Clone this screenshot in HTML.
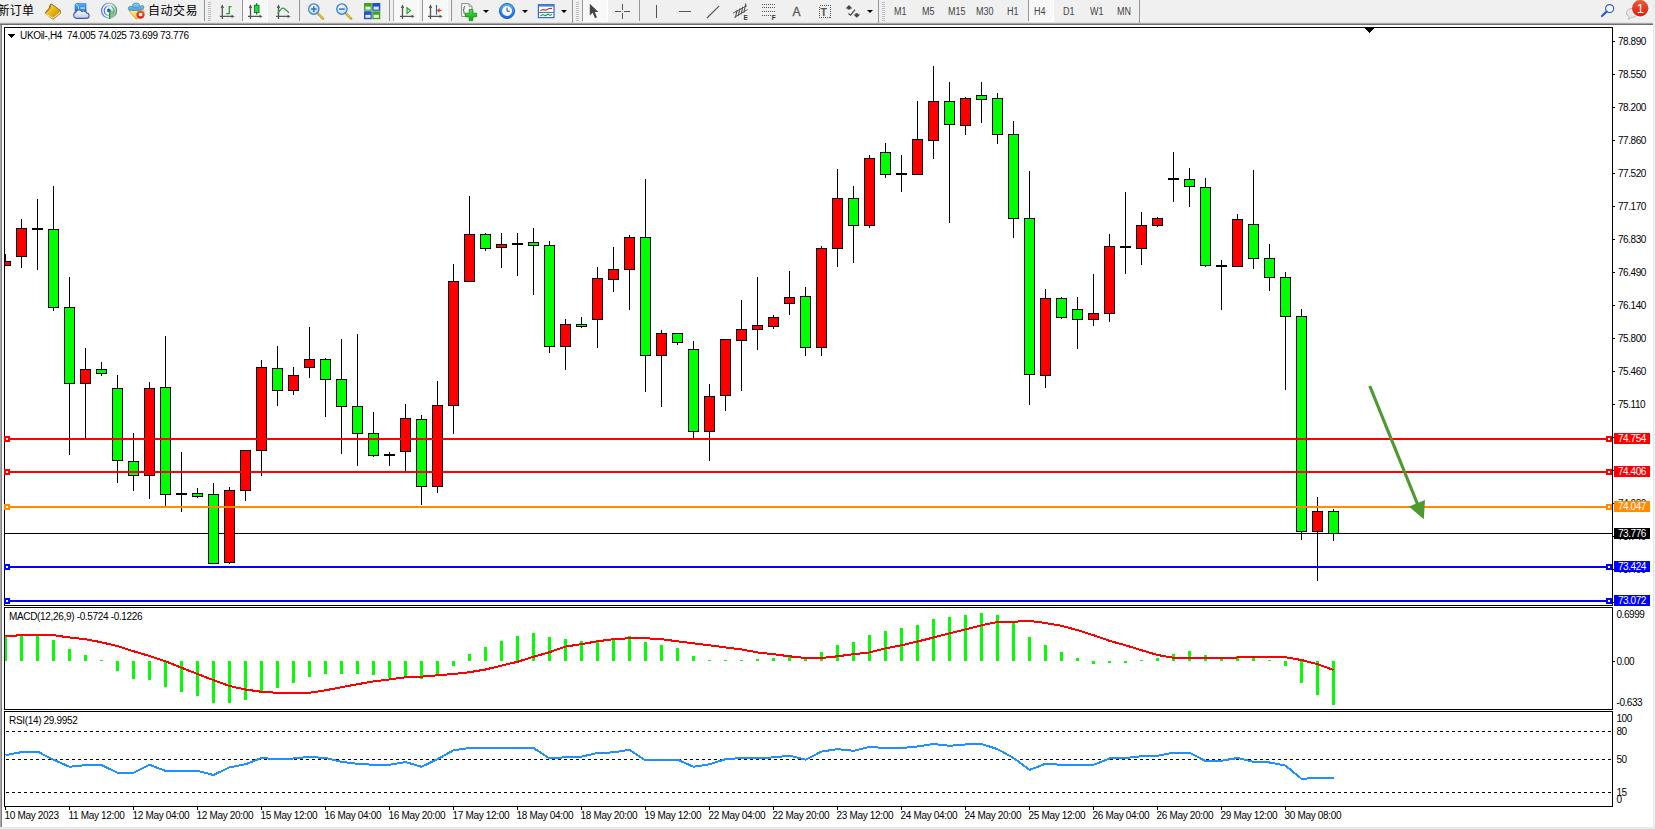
<!DOCTYPE html>
<html><head><meta charset="utf-8"><title>UKOil-,H4</title>
<style>
html,body{margin:0;padding:0;background:#fff;}
body{width:1655px;height:829px;position:relative;overflow:hidden;font-family:"Liberation Sans","Noto Sans CJK SC",sans-serif;}
#tb{position:absolute;left:0;top:0;width:1655px;height:25px;background:#f0f0f0;}
#tb .ln{position:absolute;left:0;width:1653px;height:1px;}
.edge{position:absolute;}
.sep{position:absolute;top:0;width:1px;height:21px;background:#969696;}
.grip{position:absolute;top:2px;width:3px;height:19px;background:repeating-linear-gradient(to bottom,#b8b8b8 0,#b8b8b8 1px,#f8f8f8 1px,#f8f8f8 2px);}
.prs{position:absolute;top:0;height:21px;background:#f8f8f8;border-right:1px solid #fff;border-bottom:1px solid #fff;box-sizing:content-box;}
.tf{position:absolute;top:6px;font-size:10px;line-height:12px;color:#444;transform:scaleX(0.9);transform-origin:0 0;white-space:nowrap;}
.cj{position:absolute;top:3px;letter-spacing:0.5px;font-size:12px;line-height:17px;color:#000;white-space:nowrap;}
.ic{position:absolute;}
.dd{position:absolute;top:10px;width:0;height:0;border-left:3px solid transparent;border-right:3px solid transparent;border-top:3px solid #000;}
</style></head><body>
<svg id="chart" width="1655" height="829" viewBox="0 0 1655 829" style="position:absolute;left:0;top:0">
<defs><clipPath id="cm"><rect x="5" y="28" width="1607" height="577"/></clipPath><clipPath id="c2"><rect x="5" y="608" width="1607" height="101"/></clipPath><clipPath id="c3"><rect x="5" y="712" width="1607" height="94"/></clipPath></defs>
<g shape-rendering="crispEdges">
<rect x="4.5" y="27.5" width="1608" height="578" fill="none" stroke="#000" stroke-width="1"/>
<rect x="4.5" y="607.5" width="1608" height="102" fill="none" stroke="#000" stroke-width="1"/>
<rect x="4.5" y="711.5" width="1608" height="95" fill="none" stroke="#000" stroke-width="1"/>
<polygon points="1364.5,28 1374.5,28 1369.5,33" fill="#000"/>
<polygon points="7.5,34 15.5,34 11.5,38" fill="#000"/>
<rect x="1613" y="41" width="2" height="1" fill="#000"/>
<rect x="1613" y="74" width="2" height="1" fill="#000"/>
<rect x="1613" y="107" width="2" height="1" fill="#000"/>
<rect x="1613" y="140" width="2" height="1" fill="#000"/>
<rect x="1613" y="173" width="2" height="1" fill="#000"/>
<rect x="1613" y="206" width="2" height="1" fill="#000"/>
<rect x="1613" y="239" width="2" height="1" fill="#000"/>
<rect x="1613" y="272" width="2" height="1" fill="#000"/>
<rect x="1613" y="305" width="2" height="1" fill="#000"/>
<rect x="1613" y="338" width="2" height="1" fill="#000"/>
<rect x="1613" y="371" width="2" height="1" fill="#000"/>
<rect x="1613" y="404" width="2" height="1" fill="#000"/>
<rect x="1613" y="437" width="2" height="1" fill="#000"/>
<rect x="1613" y="470" width="2" height="1" fill="#000"/>
<rect x="1613" y="503" width="2" height="1" fill="#000"/>
<rect x="1613" y="536" width="2" height="1" fill="#000"/>
<rect x="1613" y="569" width="2" height="1" fill="#000"/>
<rect x="1613" y="602" width="2" height="1" fill="#000"/>
<rect x="1613" y="661" width="2" height="1" fill="#000"/>
<g clip-path="url(#cm)">
<rect x="5" y="533" width="1607" height="1" fill="#000"/>
<rect x="5" y="254" width="1" height="12" fill="#000"/>
<rect x="0" y="261" width="11" height="5" fill="#000"/>
<rect x="1" y="262" width="9" height="3" fill="#ff0000"/>
<rect x="21" y="219" width="1" height="49" fill="#000"/>
<rect x="16" y="228" width="11" height="29" fill="#000"/>
<rect x="17" y="229" width="9" height="27" fill="#ff0000"/>
<rect x="37" y="199" width="1" height="71" fill="#000"/>
<rect x="32" y="228" width="11" height="2" fill="#000"/>
<rect x="53" y="186" width="1" height="125" fill="#000"/>
<rect x="48" y="229" width="11" height="79" fill="#000"/>
<rect x="49" y="230" width="9" height="77" fill="#00ff00"/>
<rect x="69" y="277" width="1" height="178" fill="#000"/>
<rect x="64" y="307" width="11" height="77" fill="#000"/>
<rect x="65" y="308" width="9" height="75" fill="#00ff00"/>
<rect x="85" y="348" width="1" height="90" fill="#000"/>
<rect x="80" y="369" width="11" height="15" fill="#000"/>
<rect x="81" y="370" width="9" height="13" fill="#ff0000"/>
<rect x="101" y="362" width="1" height="14" fill="#000"/>
<rect x="96" y="369" width="11" height="5" fill="#000"/>
<rect x="97" y="370" width="9" height="3" fill="#00ff00"/>
<rect x="117" y="375" width="1" height="108" fill="#000"/>
<rect x="112" y="388" width="11" height="73" fill="#000"/>
<rect x="113" y="389" width="9" height="71" fill="#00ff00"/>
<rect x="133" y="433" width="1" height="58" fill="#000"/>
<rect x="128" y="461" width="11" height="15" fill="#000"/>
<rect x="129" y="462" width="9" height="13" fill="#00ff00"/>
<rect x="149" y="382" width="1" height="117" fill="#000"/>
<rect x="144" y="388" width="11" height="88" fill="#000"/>
<rect x="145" y="389" width="9" height="86" fill="#ff0000"/>
<rect x="165" y="336" width="1" height="170" fill="#000"/>
<rect x="160" y="387" width="11" height="108" fill="#000"/>
<rect x="161" y="388" width="9" height="106" fill="#00ff00"/>
<rect x="181" y="452" width="1" height="60" fill="#000"/>
<rect x="176" y="493" width="11" height="2" fill="#000"/>
<rect x="197" y="488" width="1" height="10" fill="#000"/>
<rect x="192" y="493" width="11" height="4" fill="#000"/>
<rect x="193" y="494" width="9" height="2" fill="#00ff00"/>
<rect x="213" y="483" width="1" height="81" fill="#000"/>
<rect x="208" y="494" width="11" height="70" fill="#000"/>
<rect x="209" y="495" width="9" height="68" fill="#00ff00"/>
<rect x="229" y="487" width="1" height="77" fill="#000"/>
<rect x="224" y="490" width="11" height="73" fill="#000"/>
<rect x="225" y="491" width="9" height="71" fill="#ff0000"/>
<rect x="245" y="450" width="1" height="51" fill="#000"/>
<rect x="240" y="450" width="11" height="41" fill="#000"/>
<rect x="241" y="451" width="9" height="39" fill="#ff0000"/>
<rect x="261" y="360" width="1" height="116" fill="#000"/>
<rect x="256" y="367" width="11" height="84" fill="#000"/>
<rect x="257" y="368" width="9" height="82" fill="#ff0000"/>
<rect x="277" y="346" width="1" height="60" fill="#000"/>
<rect x="272" y="368" width="11" height="23" fill="#000"/>
<rect x="273" y="369" width="9" height="21" fill="#00ff00"/>
<rect x="293" y="367" width="1" height="28" fill="#000"/>
<rect x="288" y="375" width="11" height="16" fill="#000"/>
<rect x="289" y="376" width="9" height="14" fill="#ff0000"/>
<rect x="309" y="327" width="1" height="51" fill="#000"/>
<rect x="304" y="359" width="11" height="9" fill="#000"/>
<rect x="305" y="360" width="9" height="7" fill="#ff0000"/>
<rect x="325" y="358" width="1" height="59" fill="#000"/>
<rect x="320" y="359" width="11" height="21" fill="#000"/>
<rect x="321" y="360" width="9" height="19" fill="#00ff00"/>
<rect x="341" y="339" width="1" height="115" fill="#000"/>
<rect x="336" y="379" width="11" height="28" fill="#000"/>
<rect x="337" y="380" width="9" height="26" fill="#00ff00"/>
<rect x="357" y="334" width="1" height="132" fill="#000"/>
<rect x="352" y="406" width="11" height="28" fill="#000"/>
<rect x="353" y="407" width="9" height="26" fill="#00ff00"/>
<rect x="373" y="412" width="1" height="45" fill="#000"/>
<rect x="368" y="433" width="11" height="23" fill="#000"/>
<rect x="369" y="434" width="9" height="21" fill="#00ff00"/>
<rect x="389" y="452" width="1" height="14" fill="#000"/>
<rect x="384" y="454" width="11" height="2" fill="#000"/>
<rect x="405" y="404" width="1" height="67" fill="#000"/>
<rect x="400" y="418" width="11" height="34" fill="#000"/>
<rect x="401" y="419" width="9" height="32" fill="#ff0000"/>
<rect x="421" y="415" width="1" height="90" fill="#000"/>
<rect x="416" y="419" width="11" height="68" fill="#000"/>
<rect x="417" y="420" width="9" height="66" fill="#00ff00"/>
<rect x="437" y="381" width="1" height="112" fill="#000"/>
<rect x="432" y="405" width="11" height="82" fill="#000"/>
<rect x="433" y="406" width="9" height="80" fill="#ff0000"/>
<rect x="453" y="264" width="1" height="170" fill="#000"/>
<rect x="448" y="281" width="11" height="125" fill="#000"/>
<rect x="449" y="282" width="9" height="123" fill="#ff0000"/>
<rect x="469" y="196" width="1" height="86" fill="#000"/>
<rect x="464" y="234" width="11" height="48" fill="#000"/>
<rect x="465" y="235" width="9" height="46" fill="#ff0000"/>
<rect x="485" y="233" width="1" height="18" fill="#000"/>
<rect x="480" y="234" width="11" height="15" fill="#000"/>
<rect x="481" y="235" width="9" height="13" fill="#00ff00"/>
<rect x="501" y="233" width="1" height="35" fill="#000"/>
<rect x="496" y="244" width="11" height="4" fill="#000"/>
<rect x="497" y="245" width="9" height="2" fill="#ff0000"/>
<rect x="517" y="233" width="1" height="43" fill="#000"/>
<rect x="512" y="243" width="11" height="2" fill="#000"/>
<rect x="533" y="228" width="1" height="67" fill="#000"/>
<rect x="528" y="242" width="11" height="4" fill="#000"/>
<rect x="529" y="243" width="9" height="2" fill="#00ff00"/>
<rect x="549" y="241" width="1" height="112" fill="#000"/>
<rect x="544" y="245" width="11" height="102" fill="#000"/>
<rect x="545" y="246" width="9" height="100" fill="#00ff00"/>
<rect x="565" y="319" width="1" height="51" fill="#000"/>
<rect x="560" y="324" width="11" height="23" fill="#000"/>
<rect x="561" y="325" width="9" height="21" fill="#ff0000"/>
<rect x="581" y="317" width="1" height="11" fill="#000"/>
<rect x="576" y="324" width="11" height="3" fill="#000"/>
<rect x="577" y="325" width="9" height="1" fill="#00ff00"/>
<rect x="597" y="267" width="1" height="81" fill="#000"/>
<rect x="592" y="278" width="11" height="42" fill="#000"/>
<rect x="593" y="279" width="9" height="40" fill="#ff0000"/>
<rect x="613" y="247" width="1" height="45" fill="#000"/>
<rect x="608" y="269" width="11" height="11" fill="#000"/>
<rect x="609" y="270" width="9" height="9" fill="#ff0000"/>
<rect x="629" y="235" width="1" height="75" fill="#000"/>
<rect x="624" y="237" width="11" height="33" fill="#000"/>
<rect x="625" y="238" width="9" height="31" fill="#ff0000"/>
<rect x="645" y="179" width="1" height="213" fill="#000"/>
<rect x="640" y="237" width="11" height="119" fill="#000"/>
<rect x="641" y="238" width="9" height="117" fill="#00ff00"/>
<rect x="661" y="330" width="1" height="77" fill="#000"/>
<rect x="656" y="333" width="11" height="23" fill="#000"/>
<rect x="657" y="334" width="9" height="21" fill="#ff0000"/>
<rect x="677" y="333" width="1" height="12" fill="#000"/>
<rect x="672" y="333" width="11" height="10" fill="#000"/>
<rect x="673" y="334" width="9" height="8" fill="#00ff00"/>
<rect x="693" y="341" width="1" height="97" fill="#000"/>
<rect x="688" y="349" width="11" height="83" fill="#000"/>
<rect x="689" y="350" width="9" height="81" fill="#00ff00"/>
<rect x="709" y="384" width="1" height="77" fill="#000"/>
<rect x="704" y="396" width="11" height="36" fill="#000"/>
<rect x="705" y="397" width="9" height="34" fill="#ff0000"/>
<rect x="725" y="339" width="1" height="72" fill="#000"/>
<rect x="720" y="339" width="11" height="57" fill="#000"/>
<rect x="721" y="340" width="9" height="55" fill="#ff0000"/>
<rect x="741" y="300" width="1" height="91" fill="#000"/>
<rect x="736" y="329" width="11" height="12" fill="#000"/>
<rect x="737" y="330" width="9" height="10" fill="#ff0000"/>
<rect x="757" y="277" width="1" height="73" fill="#000"/>
<rect x="752" y="325" width="11" height="5" fill="#000"/>
<rect x="753" y="326" width="9" height="3" fill="#ff0000"/>
<rect x="773" y="315" width="1" height="14" fill="#000"/>
<rect x="768" y="317" width="11" height="10" fill="#000"/>
<rect x="769" y="318" width="9" height="8" fill="#ff0000"/>
<rect x="789" y="271" width="1" height="44" fill="#000"/>
<rect x="784" y="297" width="11" height="7" fill="#000"/>
<rect x="785" y="298" width="9" height="5" fill="#ff0000"/>
<rect x="805" y="287" width="1" height="69" fill="#000"/>
<rect x="800" y="296" width="11" height="52" fill="#000"/>
<rect x="801" y="297" width="9" height="50" fill="#00ff00"/>
<rect x="821" y="246" width="1" height="110" fill="#000"/>
<rect x="816" y="248" width="11" height="100" fill="#000"/>
<rect x="817" y="249" width="9" height="98" fill="#ff0000"/>
<rect x="837" y="169" width="1" height="98" fill="#000"/>
<rect x="832" y="198" width="11" height="51" fill="#000"/>
<rect x="833" y="199" width="9" height="49" fill="#ff0000"/>
<rect x="853" y="186" width="1" height="77" fill="#000"/>
<rect x="848" y="198" width="11" height="28" fill="#000"/>
<rect x="849" y="199" width="9" height="26" fill="#00ff00"/>
<rect x="869" y="155" width="1" height="73" fill="#000"/>
<rect x="864" y="158" width="11" height="68" fill="#000"/>
<rect x="865" y="159" width="9" height="66" fill="#ff0000"/>
<rect x="885" y="143" width="1" height="35" fill="#000"/>
<rect x="880" y="152" width="11" height="23" fill="#000"/>
<rect x="881" y="153" width="9" height="21" fill="#00ff00"/>
<rect x="901" y="155" width="1" height="37" fill="#000"/>
<rect x="896" y="173" width="11" height="2" fill="#000"/>
<rect x="917" y="101" width="1" height="74" fill="#000"/>
<rect x="912" y="139" width="11" height="36" fill="#000"/>
<rect x="913" y="140" width="9" height="34" fill="#ff0000"/>
<rect x="933" y="66" width="1" height="93" fill="#000"/>
<rect x="928" y="101" width="11" height="40" fill="#000"/>
<rect x="929" y="102" width="9" height="38" fill="#ff0000"/>
<rect x="949" y="82" width="1" height="141" fill="#000"/>
<rect x="944" y="101" width="11" height="24" fill="#000"/>
<rect x="945" y="102" width="9" height="22" fill="#00ff00"/>
<rect x="965" y="97" width="1" height="38" fill="#000"/>
<rect x="960" y="98" width="11" height="28" fill="#000"/>
<rect x="961" y="99" width="9" height="26" fill="#ff0000"/>
<rect x="981" y="82" width="1" height="41" fill="#000"/>
<rect x="976" y="95" width="11" height="5" fill="#000"/>
<rect x="977" y="96" width="9" height="3" fill="#00ff00"/>
<rect x="997" y="93" width="1" height="51" fill="#000"/>
<rect x="992" y="98" width="11" height="37" fill="#000"/>
<rect x="993" y="99" width="9" height="35" fill="#00ff00"/>
<rect x="1013" y="121" width="1" height="117" fill="#000"/>
<rect x="1008" y="134" width="11" height="85" fill="#000"/>
<rect x="1009" y="135" width="9" height="83" fill="#00ff00"/>
<rect x="1029" y="171" width="1" height="234" fill="#000"/>
<rect x="1024" y="218" width="11" height="157" fill="#000"/>
<rect x="1025" y="219" width="9" height="155" fill="#00ff00"/>
<rect x="1045" y="289" width="1" height="99" fill="#000"/>
<rect x="1040" y="298" width="11" height="78" fill="#000"/>
<rect x="1041" y="299" width="9" height="76" fill="#ff0000"/>
<rect x="1061" y="297" width="1" height="22" fill="#000"/>
<rect x="1056" y="298" width="11" height="20" fill="#000"/>
<rect x="1057" y="299" width="9" height="18" fill="#00ff00"/>
<rect x="1077" y="297" width="1" height="52" fill="#000"/>
<rect x="1072" y="309" width="11" height="11" fill="#000"/>
<rect x="1073" y="310" width="9" height="9" fill="#00ff00"/>
<rect x="1093" y="274" width="1" height="52" fill="#000"/>
<rect x="1088" y="313" width="11" height="7" fill="#000"/>
<rect x="1089" y="314" width="9" height="5" fill="#ff0000"/>
<rect x="1109" y="234" width="1" height="88" fill="#000"/>
<rect x="1104" y="246" width="11" height="68" fill="#000"/>
<rect x="1105" y="247" width="9" height="66" fill="#ff0000"/>
<rect x="1125" y="192" width="1" height="82" fill="#000"/>
<rect x="1120" y="246" width="11" height="2" fill="#000"/>
<rect x="1141" y="212" width="1" height="53" fill="#000"/>
<rect x="1136" y="225" width="11" height="24" fill="#000"/>
<rect x="1137" y="226" width="9" height="22" fill="#ff0000"/>
<rect x="1157" y="217" width="1" height="10" fill="#000"/>
<rect x="1152" y="218" width="11" height="8" fill="#000"/>
<rect x="1153" y="219" width="9" height="6" fill="#ff0000"/>
<rect x="1173" y="152" width="1" height="50" fill="#000"/>
<rect x="1168" y="178" width="11" height="2" fill="#000"/>
<rect x="1189" y="168" width="1" height="39" fill="#000"/>
<rect x="1184" y="179" width="11" height="8" fill="#000"/>
<rect x="1185" y="180" width="9" height="6" fill="#00ff00"/>
<rect x="1205" y="178" width="1" height="89" fill="#000"/>
<rect x="1200" y="187" width="11" height="79" fill="#000"/>
<rect x="1201" y="188" width="9" height="77" fill="#00ff00"/>
<rect x="1221" y="260" width="1" height="50" fill="#000"/>
<rect x="1216" y="265" width="11" height="2" fill="#000"/>
<rect x="1237" y="214" width="1" height="53" fill="#000"/>
<rect x="1232" y="219" width="11" height="48" fill="#000"/>
<rect x="1233" y="220" width="9" height="46" fill="#ff0000"/>
<rect x="1253" y="170" width="1" height="99" fill="#000"/>
<rect x="1248" y="224" width="11" height="35" fill="#000"/>
<rect x="1249" y="225" width="9" height="33" fill="#00ff00"/>
<rect x="1269" y="244" width="1" height="47" fill="#000"/>
<rect x="1264" y="258" width="11" height="20" fill="#000"/>
<rect x="1265" y="259" width="9" height="18" fill="#00ff00"/>
<rect x="1285" y="272" width="1" height="118" fill="#000"/>
<rect x="1280" y="277" width="11" height="40" fill="#000"/>
<rect x="1281" y="278" width="9" height="38" fill="#00ff00"/>
<rect x="1301" y="309" width="1" height="231" fill="#000"/>
<rect x="1296" y="316" width="11" height="216" fill="#000"/>
<rect x="1297" y="317" width="9" height="214" fill="#00ff00"/>
<rect x="1317" y="497" width="1" height="84" fill="#000"/>
<rect x="1312" y="511" width="11" height="21" fill="#000"/>
<rect x="1313" y="512" width="9" height="19" fill="#ff0000"/>
<rect x="1333" y="509" width="1" height="32" fill="#000"/>
<rect x="1328" y="511" width="11" height="23" fill="#000"/>
<rect x="1329" y="512" width="9" height="21" fill="#00ff00"/>
</g>
<rect x="5" y="438" width="1607" height="2" fill="#ff0000"/>
<rect x="4" y="436" width="6" height="6" fill="#ff0000"/>
<rect x="6" y="438" width="2" height="2" fill="#fff"/>
<rect x="1606" y="436" width="6" height="6" fill="#ff0000"/>
<rect x="1608" y="438" width="2" height="2" fill="#fff"/>
<rect x="5" y="471" width="1607" height="2" fill="#ff0000"/>
<rect x="4" y="469" width="6" height="6" fill="#ff0000"/>
<rect x="6" y="471" width="2" height="2" fill="#fff"/>
<rect x="1606" y="469" width="6" height="6" fill="#ff0000"/>
<rect x="1608" y="471" width="2" height="2" fill="#fff"/>
<rect x="5" y="506" width="1607" height="2" fill="#ff8c00"/>
<rect x="4" y="504" width="6" height="6" fill="#ff8c00"/>
<rect x="6" y="506" width="2" height="2" fill="#fff"/>
<rect x="1606" y="504" width="6" height="6" fill="#ff8c00"/>
<rect x="1608" y="506" width="2" height="2" fill="#fff"/>
<rect x="5" y="566" width="1607" height="2" fill="#0000ff"/>
<rect x="4" y="564" width="6" height="6" fill="#0000ff"/>
<rect x="6" y="566" width="2" height="2" fill="#fff"/>
<rect x="1606" y="564" width="6" height="6" fill="#0000ff"/>
<rect x="1608" y="566" width="2" height="2" fill="#fff"/>
<rect x="5" y="600" width="1607" height="2" fill="#0000ff"/>
<rect x="4" y="598" width="6" height="6" fill="#0000ff"/>
<rect x="6" y="600" width="2" height="2" fill="#fff"/>
<rect x="1606" y="598" width="6" height="6" fill="#0000ff"/>
<rect x="1608" y="600" width="2" height="2" fill="#fff"/>
<g clip-path="url(#c2)">
<rect x="4" y="636" width="3" height="25" fill="#00ff00"/>
<rect x="20" y="636" width="3" height="25" fill="#00ff00"/>
<rect x="36" y="636" width="3" height="25" fill="#00ff00"/>
<rect x="52" y="640" width="3" height="21" fill="#00ff00"/>
<rect x="68" y="649" width="3" height="12" fill="#00ff00"/>
<rect x="84" y="655" width="3" height="6" fill="#00ff00"/>
<rect x="100" y="660" width="3" height="1" fill="#00ff00"/>
<rect x="116" y="661" width="3" height="10" fill="#00ff00"/>
<rect x="132" y="661" width="3" height="18" fill="#00ff00"/>
<rect x="148" y="661" width="3" height="19" fill="#00ff00"/>
<rect x="164" y="661" width="3" height="26" fill="#00ff00"/>
<rect x="180" y="661" width="3" height="31" fill="#00ff00"/>
<rect x="196" y="661" width="3" height="35" fill="#00ff00"/>
<rect x="212" y="661" width="3" height="42" fill="#00ff00"/>
<rect x="228" y="661" width="3" height="42" fill="#00ff00"/>
<rect x="244" y="661" width="3" height="39" fill="#00ff00"/>
<rect x="260" y="661" width="3" height="31" fill="#00ff00"/>
<rect x="276" y="661" width="3" height="27" fill="#00ff00"/>
<rect x="292" y="661" width="3" height="22" fill="#00ff00"/>
<rect x="308" y="661" width="3" height="16" fill="#00ff00"/>
<rect x="324" y="661" width="3" height="13" fill="#00ff00"/>
<rect x="340" y="661" width="3" height="13" fill="#00ff00"/>
<rect x="356" y="661" width="3" height="13" fill="#00ff00"/>
<rect x="372" y="661" width="3" height="14" fill="#00ff00"/>
<rect x="388" y="661" width="3" height="17" fill="#00ff00"/>
<rect x="404" y="661" width="3" height="16" fill="#00ff00"/>
<rect x="420" y="661" width="3" height="18" fill="#00ff00"/>
<rect x="436" y="661" width="3" height="14" fill="#00ff00"/>
<rect x="452" y="661" width="3" height="5" fill="#00ff00"/>
<rect x="468" y="654" width="3" height="7" fill="#00ff00"/>
<rect x="484" y="647" width="3" height="14" fill="#00ff00"/>
<rect x="500" y="641" width="3" height="20" fill="#00ff00"/>
<rect x="516" y="636" width="3" height="25" fill="#00ff00"/>
<rect x="532" y="633" width="3" height="28" fill="#00ff00"/>
<rect x="548" y="637" width="3" height="24" fill="#00ff00"/>
<rect x="564" y="639" width="3" height="22" fill="#00ff00"/>
<rect x="580" y="641" width="3" height="20" fill="#00ff00"/>
<rect x="596" y="640" width="3" height="21" fill="#00ff00"/>
<rect x="612" y="638" width="3" height="23" fill="#00ff00"/>
<rect x="628" y="636" width="3" height="25" fill="#00ff00"/>
<rect x="644" y="642" width="3" height="19" fill="#00ff00"/>
<rect x="660" y="645" width="3" height="16" fill="#00ff00"/>
<rect x="676" y="648" width="3" height="13" fill="#00ff00"/>
<rect x="692" y="656" width="3" height="5" fill="#00ff00"/>
<rect x="708" y="660" width="3" height="1" fill="#00ff00"/>
<rect x="724" y="660" width="3" height="1" fill="#00ff00"/>
<rect x="740" y="660" width="3" height="1" fill="#00ff00"/>
<rect x="756" y="659" width="3" height="2" fill="#00ff00"/>
<rect x="772" y="658" width="3" height="3" fill="#00ff00"/>
<rect x="788" y="657" width="3" height="4" fill="#00ff00"/>
<rect x="804" y="658" width="3" height="3" fill="#00ff00"/>
<rect x="820" y="652" width="3" height="9" fill="#00ff00"/>
<rect x="836" y="645" width="3" height="16" fill="#00ff00"/>
<rect x="852" y="642" width="3" height="19" fill="#00ff00"/>
<rect x="868" y="635" width="3" height="26" fill="#00ff00"/>
<rect x="884" y="631" width="3" height="30" fill="#00ff00"/>
<rect x="900" y="628" width="3" height="33" fill="#00ff00"/>
<rect x="916" y="625" width="3" height="36" fill="#00ff00"/>
<rect x="932" y="619" width="3" height="42" fill="#00ff00"/>
<rect x="948" y="617" width="3" height="44" fill="#00ff00"/>
<rect x="964" y="615" width="3" height="46" fill="#00ff00"/>
<rect x="980" y="613" width="3" height="48" fill="#00ff00"/>
<rect x="996" y="615" width="3" height="46" fill="#00ff00"/>
<rect x="1012" y="622" width="3" height="39" fill="#00ff00"/>
<rect x="1028" y="637" width="3" height="24" fill="#00ff00"/>
<rect x="1044" y="645" width="3" height="16" fill="#00ff00"/>
<rect x="1060" y="652" width="3" height="9" fill="#00ff00"/>
<rect x="1076" y="658" width="3" height="3" fill="#00ff00"/>
<rect x="1092" y="661" width="3" height="3" fill="#00ff00"/>
<rect x="1108" y="661" width="3" height="2" fill="#00ff00"/>
<rect x="1124" y="661" width="3" height="2" fill="#00ff00"/>
<rect x="1140" y="660" width="3" height="1" fill="#00ff00"/>
<rect x="1156" y="658" width="3" height="3" fill="#00ff00"/>
<rect x="1172" y="654" width="3" height="7" fill="#00ff00"/>
<rect x="1188" y="651" width="3" height="10" fill="#00ff00"/>
<rect x="1204" y="655" width="3" height="6" fill="#00ff00"/>
<rect x="1220" y="658" width="3" height="3" fill="#00ff00"/>
<rect x="1236" y="656" width="3" height="5" fill="#00ff00"/>
<rect x="1252" y="658" width="3" height="3" fill="#00ff00"/>
<rect x="1268" y="660" width="3" height="1" fill="#00ff00"/>
<rect x="1284" y="661" width="3" height="5" fill="#00ff00"/>
<rect x="1300" y="661" width="3" height="22" fill="#00ff00"/>
<rect x="1316" y="661" width="3" height="34" fill="#00ff00"/>
<rect x="1332" y="661" width="3" height="44" fill="#00ff00"/>
<polyline points="5.5,636.2 21.5,635.2 37.5,635.2 53.5,635.2 69.5,637.5 85.5,639.2 101.5,642.3 117.5,646.1 133.5,651.2 149.5,656.0 165.5,661.3 181.5,667.7 197.5,674.0 213.5,680.1 229.5,686.0 245.5,689.5 261.5,691.8 277.5,692.8 293.5,693.0 309.5,692.8 325.5,690.3 341.5,687.2 357.5,684.2 373.5,681.4 389.5,679.4 405.5,677.3 421.5,676.6 437.5,675.3 453.5,674.0 469.5,672.2 485.5,669.5 501.5,665.6 517.5,661.8 533.5,656.8 549.5,652.2 565.5,646.6 581.5,644.1 597.5,641.3 613.5,639.2 629.5,638.2 645.5,638.2 661.5,639.2 677.5,641.3 693.5,643.3 709.5,645.3 725.5,647.4 741.5,649.4 757.5,652.4 773.5,654.2 789.5,656.3 805.5,658.0 821.5,658.0 837.5,656.3 853.5,654.2 869.5,652.4 885.5,648.4 901.5,645.3 917.5,641.5 933.5,637.5 949.5,633.4 965.5,629.4 981.5,625.3 997.5,622.0 1013.5,621.7 1029.5,621.0 1045.5,623.0 1061.5,625.8 1077.5,630.1 1093.5,635.2 1109.5,640.8 1125.5,645.3 1141.5,650.2 1157.5,655.0 1173.5,657.8 1189.5,658.0 1205.5,658.0 1221.5,658.0 1237.5,657.5 1253.5,656.8 1269.5,656.8 1285.5,657.3 1301.5,660.0 1317.5,664.1 1333.5,670.0" fill="none" stroke="#ff0000" stroke-width="2"/>
</g>
<g clip-path="url(#c3)">
<line x1="6" y1="731.5" x2="1612" y2="731.5" stroke="#000" stroke-width="1" stroke-dasharray="3 3"/>
<line x1="6" y1="759.5" x2="1612" y2="759.5" stroke="#000" stroke-width="1" stroke-dasharray="3 3"/>
<line x1="6" y1="792.5" x2="1612" y2="792.5" stroke="#000" stroke-width="1" stroke-dasharray="3 3"/>
<polyline points="5.5,755.2 21.5,752.1 37.5,751.6 53.5,759.7 69.5,766.8 85.5,765.1 101.5,765.1 117.5,772.7 133.5,772.7 149.5,764.8 165.5,770.9 181.5,770.9 197.5,770.9 213.5,775.0 229.5,767.3 245.5,764.3 261.5,758.0 277.5,759.2 293.5,758.5 309.5,756.9 325.5,758.0 341.5,761.8 357.5,763.8 373.5,764.8 389.5,764.8 405.5,762.0 421.5,766.8 437.5,759.2 453.5,750.3 469.5,748.0 485.5,748.0 501.5,748.0 517.5,748.0 533.5,748.0 549.5,758.5 565.5,757.2 581.5,756.7 597.5,752.9 613.5,752.4 629.5,749.8 645.5,760.5 661.5,759.7 677.5,759.7 693.5,766.8 709.5,764.3 725.5,759.2 741.5,758.0 757.5,758.0 773.5,757.4 789.5,755.7 805.5,759.7 821.5,751.6 837.5,749.1 853.5,750.8 869.5,747.0 885.5,748.0 901.5,748.0 917.5,746.5 933.5,744.0 949.5,745.8 965.5,744.5 981.5,744.0 997.5,749.1 1013.5,758.0 1029.5,769.9 1045.5,763.8 1061.5,764.8 1077.5,764.8 1093.5,764.8 1109.5,758.5 1125.5,758.0 1141.5,756.2 1157.5,755.9 1173.5,752.6 1189.5,752.6 1205.5,761.0 1221.5,760.7 1237.5,758.0 1253.5,761.8 1269.5,762.5 1285.5,765.6 1301.5,778.8 1317.5,778.0 1333.5,778.0" fill="none" stroke="#1e90ff" stroke-width="2"/>
</g>
<rect x="5" y="807" width="1" height="3" fill="#000"/>
<rect x="69" y="807" width="1" height="3" fill="#000"/>
<rect x="133" y="807" width="1" height="3" fill="#000"/>
<rect x="197" y="807" width="1" height="3" fill="#000"/>
<rect x="261" y="807" width="1" height="3" fill="#000"/>
<rect x="325" y="807" width="1" height="3" fill="#000"/>
<rect x="389" y="807" width="1" height="3" fill="#000"/>
<rect x="453" y="807" width="1" height="3" fill="#000"/>
<rect x="517" y="807" width="1" height="3" fill="#000"/>
<rect x="581" y="807" width="1" height="3" fill="#000"/>
<rect x="645" y="807" width="1" height="3" fill="#000"/>
<rect x="709" y="807" width="1" height="3" fill="#000"/>
<rect x="773" y="807" width="1" height="3" fill="#000"/>
<rect x="837" y="807" width="1" height="3" fill="#000"/>
<rect x="901" y="807" width="1" height="3" fill="#000"/>
<rect x="965" y="807" width="1" height="3" fill="#000"/>
<rect x="1029" y="807" width="1" height="3" fill="#000"/>
<rect x="1093" y="807" width="1" height="3" fill="#000"/>
<rect x="1157" y="807" width="1" height="3" fill="#000"/>
<rect x="1221" y="807" width="1" height="3" fill="#000"/>
<rect x="1285" y="807" width="1" height="3" fill="#000"/>
</g>
<g><line x1="1369.8" y1="386" x2="1417.5" y2="504" stroke="#4e9a2e" stroke-width="3.2"/><polygon points="1423.8,519.3 1409,506.6 1425,500" fill="#4e9a2e"/></g>
<g font-family="Liberation Sans, sans-serif" font-size="10" fill="#000" letter-spacing="-0.33">
<text x="20" y="39">UKOil-,H4&#160; 74.005 74.025 73.699 73.776</text>
<text x="9" y="620">MACD(12,26,9) -0.5724 -0.1226</text>
<text x="9" y="724">RSI(14) 29.9952</text>
<text x="1618" y="45" letter-spacing="-0.45">78.890</text>
<text x="1618" y="78" letter-spacing="-0.45">78.550</text>
<text x="1618" y="111" letter-spacing="-0.45">78.200</text>
<text x="1618" y="144" letter-spacing="-0.45">77.860</text>
<text x="1618" y="177" letter-spacing="-0.45">77.520</text>
<text x="1618" y="210" letter-spacing="-0.45">77.170</text>
<text x="1618" y="243" letter-spacing="-0.45">76.830</text>
<text x="1618" y="276" letter-spacing="-0.45">76.490</text>
<text x="1618" y="309" letter-spacing="-0.45">76.140</text>
<text x="1618" y="342" letter-spacing="-0.45">75.800</text>
<text x="1618" y="375" letter-spacing="-0.45">75.460</text>
<text x="1618" y="408" letter-spacing="-0.45">75.110</text>
<text x="1618" y="441" letter-spacing="-0.45">74.770</text>
<text x="1618" y="474" letter-spacing="-0.45">74.430</text>
<text x="1618" y="507" letter-spacing="-0.45">74.080</text>
<text x="1618" y="540" letter-spacing="-0.45">73.740</text>
<text x="1618" y="573" letter-spacing="-0.45">73.400</text>
<text x="1616.5" y="618" letter-spacing="-0.45">0.6999</text>
<text x="1616.5" y="665" letter-spacing="-0.45">0.00</text>
<text x="1616.5" y="706" letter-spacing="-0.45">-0.633</text>
<text x="1616.5" y="722" letter-spacing="-0.45">100</text>
<text x="1616.5" y="735" letter-spacing="-0.45">80</text>
<text x="1616.5" y="763" letter-spacing="-0.45">50</text>
<text x="1616.5" y="796" letter-spacing="-0.45">15</text>
<text x="1616.5" y="803" letter-spacing="-0.45">0</text>
<text x="4.5" y="819">10 May 2023</text>
<text x="68.5" y="819">11 May 12:00</text>
<text x="132.5" y="819">12 May 04:00</text>
<text x="196.5" y="819">12 May 20:00</text>
<text x="260.5" y="819">15 May 12:00</text>
<text x="324.5" y="819">16 May 04:00</text>
<text x="388.5" y="819">16 May 20:00</text>
<text x="452.5" y="819">17 May 12:00</text>
<text x="516.5" y="819">18 May 04:00</text>
<text x="580.5" y="819">18 May 20:00</text>
<text x="644.5" y="819">19 May 12:00</text>
<text x="708.5" y="819">22 May 04:00</text>
<text x="772.5" y="819">22 May 20:00</text>
<text x="836.5" y="819">23 May 12:00</text>
<text x="900.5" y="819">24 May 04:00</text>
<text x="964.5" y="819">24 May 20:00</text>
<text x="1028.5" y="819">25 May 12:00</text>
<text x="1092.5" y="819">26 May 04:00</text>
<text x="1156.5" y="819">26 May 20:00</text>
<text x="1220.5" y="819">29 May 12:00</text>
<text x="1284.5" y="819">30 May 08:00</text>
</g>
<g shape-rendering="crispEdges">
<rect x="1614" y="433" width="36" height="11" fill="#ff0000"/>
<rect x="1614" y="466" width="36" height="11" fill="#ff0000"/>
<rect x="1614" y="501" width="36" height="11" fill="#ff8c00"/>
<rect x="1614" y="561" width="36" height="11" fill="#0000ff"/>
<rect x="1614" y="595" width="36" height="11" fill="#0000ff"/>
<rect x="1614" y="528" width="36" height="11" fill="#000"/>
</g>
<g font-family="Liberation Sans, sans-serif" font-size="10" fill="#fff" letter-spacing="-0.45">
<text x="1618" y="442">74.754</text>
<text x="1618" y="475">74.406</text>
<text x="1618" y="510">74.047</text>
<text x="1618" y="570">73.424</text>
<text x="1618" y="604">73.072</text>
<text x="1618" y="537">73.776</text>
</g>
</svg>
<div class="edge" style="left:0;top:25px;width:1px;height:802px;background:#a8a8a8"></div>
<div class="edge" style="left:1px;top:25px;width:1px;height:802px;background:#7f7f7f"></div>
<div class="edge" style="left:1653px;top:23px;width:1px;height:805px;background:#e6e6e6"></div>
<div class="edge" style="left:1654px;top:23px;width:1px;height:806px;background:#f6f6f6"></div>
<div class="edge" style="left:0;top:827px;width:1654px;height:1px;background:#e6e6e6"></div>
<div class="edge" style="left:0;top:828px;width:1655px;height:1px;background:#f0f0f0"></div>
<div id="tb">
<div class="ln" style="top:22px;background:#e2e2e2"></div>
<div class="ln" style="top:23px;background:#a6a6a6"></div>
<div class="ln" style="top:24px;background:#6e6e6e"></div>
<div class="cj" style="left:-2.5px;letter-spacing:0.2px">新订单</div>
<div class="cj" style="left:148px">自动交易</div>
<div class="sep" style="left:204px"></div><div class="grip" style="left:208px"></div>
<div class="sep" style="left:242px"></div><div class="prs" style="left:243px;width:24px"></div>
<div class="sep" style="left:299px"></div>
<div class="sep" style="left:389px"></div><div class="sep" style="left:393px;background:#b0b0b0"></div><div class="prs" style="left:394px;width:24px"></div>
<div class="sep" style="left:422px"></div><div class="prs" style="left:423px;width:24px"></div>
<div class="sep" style="left:451px"></div>
<div class="dd" style="left:483px"></div><div class="dd" style="left:522px"></div><div class="dd" style="left:561px"></div>
<div class="sep" style="left:572px;height:23px"></div><div class="grip" style="left:576px"></div>
<div class="sep" style="left:582px"></div><div class="prs" style="left:583px;width:24px"></div>
<div class="sep" style="left:639px"></div>
<div class="dd" style="left:867px"></div>
<div class="sep" style="left:878px;top:0;height:23px"></div><div class="grip" style="left:882px"></div>
<div class="tf" style="left:894px">M1</div><div class="tf" style="left:922px">M5</div><div class="tf" style="left:948px">M15</div><div class="tf" style="left:976px">M30</div><div class="tf" style="left:1007px">H1</div>
<div class="sep" style="left:1028px"></div><div class="prs" style="left:1029px;width:24px"></div>
<div class="tf" style="left:1034px">H4</div><div class="tf" style="left:1063px">D1</div><div class="tf" style="left:1090px">W1</div><div class="tf" style="left:1117px">MN</div>
<div class="sep" style="left:1139px;top:0;height:23px"></div>
<svg class="ic" width="1655" height="25" viewBox="0 0 1655 25" style="left:0;top:0">
<defs>
<linearGradient id="gold" x1="0" y1="0" x2="1" y2="1"><stop offset="0" stop-color="#ffe45c"/><stop offset=".5" stop-color="#e8b510"/><stop offset="1" stop-color="#b47a12"/></linearGradient>
<linearGradient id="blu" x1="0" y1="0" x2="0" y2="1"><stop offset="0" stop-color="#4fb4ff"/><stop offset="1" stop-color="#1268d8"/></linearGradient>
<linearGradient id="cld" x1="0" y1="0" x2="0" y2="1"><stop offset="0" stop-color="#ffffff"/><stop offset="1" stop-color="#b9c8e6"/></linearGradient>
<linearGradient id="redg" x1="0" y1="0" x2="0" y2="1"><stop offset="0" stop-color="#ea5a36"/><stop offset="1" stop-color="#d9200e"/></linearGradient>
<radialGradient id="glass" cx=".4" cy=".35" r=".7"><stop offset="0" stop-color="#ffffff"/><stop offset="1" stop-color="#a9d4f5"/></radialGradient>
<linearGradient id="grn" x1="0" y1="0" x2="0" y2="1"><stop offset="0" stop-color="#55e055"/><stop offset="1" stop-color="#0aa80a"/></linearGradient>
<linearGradient id="sigbg" x1="0" y1="0" x2="1" y2="0"><stop offset="0" stop-color="#f7f8fc"/><stop offset=".5" stop-color="#eef3ee"/><stop offset="1" stop-color="#bcdcbc"/></linearGradient>
<linearGradient id="sigw" x1="0" y1="0" x2="1" y2="0"><stop offset="0" stop-color="#2aa82a" stop-opacity=".75"/><stop offset="1" stop-color="#6fbf6f" stop-opacity=".25"/></linearGradient>
<linearGradient id="sigr" x1="0" y1="0" x2="1" y2="0"><stop offset="0" stop-color="#3a68dc"/><stop offset=".45" stop-color="#9fb6ea"/><stop offset=".7" stop-color="#9cc7a4"/><stop offset="1" stop-color="#4f8a88"/></linearGradient>
<linearGradient id="yel" x1="0" y1="0" x2="0" y2="1"><stop offset="0" stop-color="#fff0a0"/><stop offset="1" stop-color="#f2bd1e"/></linearGradient>
<linearGradient id="hat" x1="0" y1="0" x2="0" y2="1"><stop offset="0" stop-color="#8fd0f4"/><stop offset="1" stop-color="#4aa0dc"/></linearGradient>
</defs>
<!-- gold book -->
<path d="M50.4 4.2 L52 4.3 L60 10.3 L60.8 13 L53.4 19 L51.3 18.2 L45.2 12.9 L49.4 8 Z" fill="url(#gold)" stroke="#a3670c" stroke-width="1" stroke-linejoin="round"/>
<path d="M45.8 13.6 L52.6 18.2 L54 17.2" fill="none" stroke="#fbe58a" stroke-width="1.1"/>
<path d="M54.4 17.4 L60.2 12.2" fill="none" stroke="#efe3a6" stroke-width="1.2"/>
<path d="M50.6 4.8 L49.8 8.4 L46.2 12.6" fill="none" stroke="#8f5808" stroke-width=".7"/>
<!-- server + cloud -->
<path d="M75 4.2 L77 3.3 L86 3.6 L86.2 12.6 L75 12.6 Z" fill="url(#blu)" stroke="#1469dc" stroke-width=".5"/>
<path d="M75.6 4 L78.5 6.4 L78.5 12" stroke="#e4f4ff" stroke-width=".7" fill="none"/><rect x="80.2" y="7.5" width="4.7" height="1.1" fill="#e9f6ff"/><rect x="80.2" y="9.8" width="4.7" height=".8" fill="#7cc4ff"/>
<path d="M76.4 18.4 a3.2 3.2 0 0 1 -.6 -6.2 a3.4 3.4 0 0 1 6.2 -.6 a3 3 0 0 1 4.6 1.4 a2.7 2.7 0 0 1 -.4 5.4 Z" fill="url(#cld)" stroke="#3f5e9e" stroke-width="1.1"/>
<!-- signal -->
<circle cx="109.1" cy="10.6" r="7.9" fill="url(#sigbg)"/>
<path d="M109.1 10.6 L109.1 18.6 A8 8 0 0 0 117.1 10.6 Z" fill="url(#sigw)"/>
<g fill="none" stroke="url(#sigr)">
<circle cx="109.1" cy="10.6" r="4.9" stroke-width="1.1"/><circle cx="109.1" cy="10.6" r="7.5" stroke-width="1.1"/>
</g>
<circle cx="108.8" cy="10.4" r="1.8" fill="#2255d8"/>
<path d="M109.7 11 V18.9" stroke="#18a418" stroke-width="1.3" fill="none"/>
<!-- expert hat -->
<path d="M128.6 10.2 L143.9 9.8 L144 12.8 L137 19 L135.4 18.6 Z" fill="url(#yel)" stroke="#d6a21a" stroke-width=".7" stroke-linejoin="round"/>
<path d="M128.3 8.6 C128.3 6.4 130.4 5.6 132.4 6.8 L132.9 4.3 C133.6 2.7 138.6 2.7 139.2 4.2 L139.9 6.6 C141.6 5.2 143.9 5.2 143.9 7 C143.9 9.6 140 10.4 136 10.5 C132 10.6 128.3 10.6 128.3 8.6 Z" fill="url(#hat)" stroke="#2a86ba" stroke-width=".7"/>
<path d="M132.4 6.8 C134 8 138.4 7.8 139.9 6.6" fill="none" stroke="#2a86ba" stroke-width=".5"/>
<circle cx="140.5" cy="14.6" r="4.15" fill="url(#redg)"/><rect x="138.9" y="13" width="3.3" height="3.1" fill="#fff"/>
<!-- axes icons -->
<g stroke="#555" stroke-width="1.3" fill="#555">
<path d="M222.3 5.5 V19 M219.8 16.4 H233" fill="none"/><path d="M220.6 8 L222.3 4.6 L224 8 Z M231.6 14.7 L234.6 16.4 L231.6 18.1 Z" stroke="none"/>
<path d="M250.5 5.5 V19 M248 16.4 H261" fill="none"/><path d="M248.8 8 L250.5 4.6 L252.2 8 Z M259.6 14.7 L262.6 16.4 L259.6 18.1 Z" stroke="none"/>
<path d="M278.5 5.5 V19 M276 16.4 H289" fill="none"/><path d="M276.8 8 L278.5 4.6 L280.2 8 Z M287.6 14.7 L290.6 16.4 L287.6 18.1 Z" stroke="none"/>
<path d="M402.5 5.5 V19 M400 16.4 H413" fill="none"/><path d="M400.8 8 L402.5 4.6 L404.2 8 Z M411.6 14.7 L414.6 16.4 L411.6 18.1 Z" stroke="none"/>
<path d="M430.5 5.5 V19 M428 16.4 H441" fill="none"/><path d="M428.8 8 L430.5 4.6 L432.2 8 Z M439.6 14.7 L442.6 16.4 L439.6 18.1 Z" stroke="none"/>
</g>
<path d="M231.5 6.6 H229.3 V13.6 H226.2" fill="none" stroke="#1f9f2f" stroke-width="1.3"/>
<path d="M256.6 3.2 V14.4" stroke="#0c7a1c" stroke-width="1.2"/><rect x="254.4" y="5.2" width="4.6" height="7.4" fill="#2fd14a" stroke="#0c7a1c" stroke-width=".9"/>
<path d="M277.6 13.8 C280 10 282 7.6 283.6 8.2 C285.6 9 287 11.6 289 12.6" fill="none" stroke="#2a9a3a" stroke-width="1.2"/>
<path d="M407 7.6 L410.6 10.6 L407 13.6 Z" fill="#bff0bf" stroke="#1fa01f" stroke-width="1.1"/>
<path d="M436.5 5 V14.6" stroke="#1f6fb8" stroke-width="1.2"/><path d="M441.6 10.4 H438 M439.6 8.6 L437.6 10.4 L439.6 12.2" stroke="#d9480f" stroke-width="1.1" fill="none"/>
<!-- zoom in/out -->
<g>
<path d="M317.6 13.2 L323 18.6" stroke="#c9a227" stroke-width="2.6" stroke-linecap="round"/><path d="M317.8 13 L322.8 18" stroke="#f0d66a" stroke-width=".9"/>
<circle cx="313.8" cy="9.1" r="5.2" fill="url(#glass)" stroke="#3b7fd2" stroke-width="1.3"/>
<path d="M311 9.1 H316.6 M313.8 6.3 V11.9" stroke="#2d6fc8" stroke-width="1.5"/>
<path d="M345.7 13.2 L351.1 18.6" stroke="#c9a227" stroke-width="2.6" stroke-linecap="round"/><path d="M345.9 13 L350.9 18" stroke="#f0d66a" stroke-width=".9"/>
<circle cx="341.9" cy="9.1" r="5.2" fill="url(#glass)" stroke="#3b7fd2" stroke-width="1.3"/>
<path d="M339.1 9.1 H344.7" stroke="#2d6fc8" stroke-width="1.5"/>
</g>
<!-- tiles -->
<g>
<rect x="364" y="3" width="8" height="8" fill="#3fa51f"/><rect x="372" y="3" width="8.3" height="8" fill="#1f52c8"/>
<rect x="364" y="11" width="8" height="8.2" fill="#1f52c8"/><rect x="372" y="11" width="8.3" height="8.2" fill="#3fa51f"/>
<rect x="365.4" y="6.6" width="5.2" height="3" fill="#e9f5e0"/><rect x="373.6" y="6.6" width="5.2" height="3" fill="#dfe8fb"/>
<rect x="365.4" y="14.8" width="5.2" height="3" fill="#dfe8fb"/><rect x="373.6" y="14.8" width="5.2" height="3" fill="#e9f5e0"/>
<path d="M364 11 H380.3 M372 3 V19.2" stroke="#e8eef8" stroke-width=".5"/>
</g>
<!-- new indicator -->
<path d="M461.6 3.6 H469 L472 6.6 V16.4 H461.6 Z" fill="#fbfbfb" stroke="#8c8c8c" stroke-width="1"/><path d="M469 3.6 V6.6 H472" fill="none" stroke="#8c8c8c" stroke-width=".8"/>
<path d="M465.2 6.4 c-1.4 0 -1.2 1 -1.2 2.4 c0 .8 -.2 1.2 -.9 1.4 c.7 .2 .9 .6 .9 1.4 c0 1.4 -.2 2.4 1.2 2.4" stroke="#333" stroke-width=".9" fill="none"/>
<path d="M469.2 9.4 h3.6 v3.8 h3.8 v3.6 h-3.8 v3.8 h-3.6 v-3.8 h-3.8 v-3.6 h3.8 Z" fill="url(#grn)" stroke="#0a8a0a" stroke-width=".8"/>
<!-- clock -->
<circle cx="507" cy="11" r="7.6" fill="url(#blu)" stroke="#0d4fb4" stroke-width=".8"/><circle cx="507" cy="11" r="5" fill="#f4f8fd"/>
<path d="M507 7.6 V11.2 H509.8" stroke="#444" stroke-width="1" fill="none"/>
<!-- template -->
<rect x="538.4" y="4.6" width="15.6" height="13" fill="#fff" stroke="#2f6fc4" stroke-width="1.2"/><rect x="538.4" y="4.6" width="15.6" height="2" fill="#3f86dc"/>
<path d="M539 12.4 H553.4" stroke="#2f6fc4" stroke-width="1"/>
<path d="M540.4 10.6 L543.4 9.6 L546 10.2 L548.6 8.8 L552 8.4" stroke="#b0301c" stroke-width="1.1" fill="none"/>
<path d="M540.4 16 L543 14.6 L545.4 15.8 L548 14 L550 15.4 L552 14.6" stroke="#1f9a2f" stroke-width="1.1" fill="none"/>
<!-- cursor -->
<path d="M589.8 3.8 L589.8 15.4 L592.6 12.8 L595 18.2 L597 17.3 L594.7 12 L598.4 12 Z" fill="#444"/>
<!-- crosshair -->
<path d="M622.5 4 V10 M622.5 13 V19 M615 11.5 H621 M624 11.5 H630" stroke="#555" stroke-width="1" fill="none" shape-rendering="crispEdges"/><rect x="622" y="11" width="1" height="1" fill="#999"/>
<path d="M656.5 5 V18 M679 11.5 H691" stroke="#555" stroke-width="1" fill="none" shape-rendering="crispEdges"/>
<path d="M707 18 L719.2 5.8" stroke="#555" stroke-width="1.1"/>
<!-- channel E -->
<g stroke="#555" stroke-width="1" fill="none"><path d="M733 13.2 L747 5.6 M734.4 17.4 L747.6 9.6"/><path d="M735.4 17.6 L737.2 10 M738.2 16 L740 8.4 M741 14.4 L742.8 6.8 M743.8 12.8 L745.8 3.4" stroke-width="1.1"/></g>
<text x="743.6" y="19.8" font-family="Liberation Sans, sans-serif" font-size="6.5" font-weight="bold" fill="#333">E</text>
<!-- fibo F -->
<g stroke="#555" stroke-width="1" stroke-dasharray="1 1" shape-rendering="crispEdges"><path d="M762 4.5 H775 M762 7.5 H775 M762 11.5 H775 M762 15.5 H771"/></g>
<text x="771.8" y="19.8" font-family="Liberation Sans, sans-serif" font-size="6.5" font-weight="bold" fill="#333">F</text>
<text x="792.4" y="16" font-family="Liberation Sans, sans-serif" font-size="12" fill="#555" stroke="#555" stroke-width=".3">A</text>
<rect x="819.5" y="5.5" width="11" height="12" fill="none" stroke="#555" stroke-width="1" stroke-dasharray="1 1" shape-rendering="crispEdges"/>
<text x="820.4" y="15.6" font-family="Liberation Sans, sans-serif" font-size="10.5" font-weight="bold" fill="#555">T</text>
<!-- arrows -->
<path d="M849 5 L852.4 8.4 L850.4 8.4 L850.4 9.6 L847.6 9.6 L847.6 8.4 L845.6 8.4 Z" fill="#444"/>
<path d="M856.8 17.8 L853.4 14.4 L855.4 14.4 L855.4 13.2 L858.2 13.2 L858.2 14.4 L860.2 14.4 Z" fill="#444"/>
<path d="M848.4 13.6 L850.6 15.2 L855 9.6" stroke="#444" stroke-width="1.2" fill="none"/>
<!-- search -->
<circle cx="1609.6" cy="8.6" r="4" fill="#f7f9ff" stroke="#2a5fd0" stroke-width="1.2"/><path d="M1606.6 11.6 L1602 16" stroke="#2a5fd0" stroke-width="2.2" stroke-linecap="round"/>
<!-- chat + badge -->
<path d="M1626.5 13 a5.5 4.5 0 0 1 11 0 a5.5 4.5 0 0 1 -6.6 4.3 l-2 2.2 l0 -2.9 a5.5 4.5 0 0 1 -2.4 -3.6 Z" fill="#e6e8ee" stroke="#a9adb8" stroke-width=".8"/>
<circle cx="1640.2" cy="8.2" r="8.2" fill="url(#redg)"/>
<text x="1636.7" y="13" font-family="Liberation Sans, sans-serif" font-size="13" fill="#fff">1</text>
</svg>
</div>

</body></html>
